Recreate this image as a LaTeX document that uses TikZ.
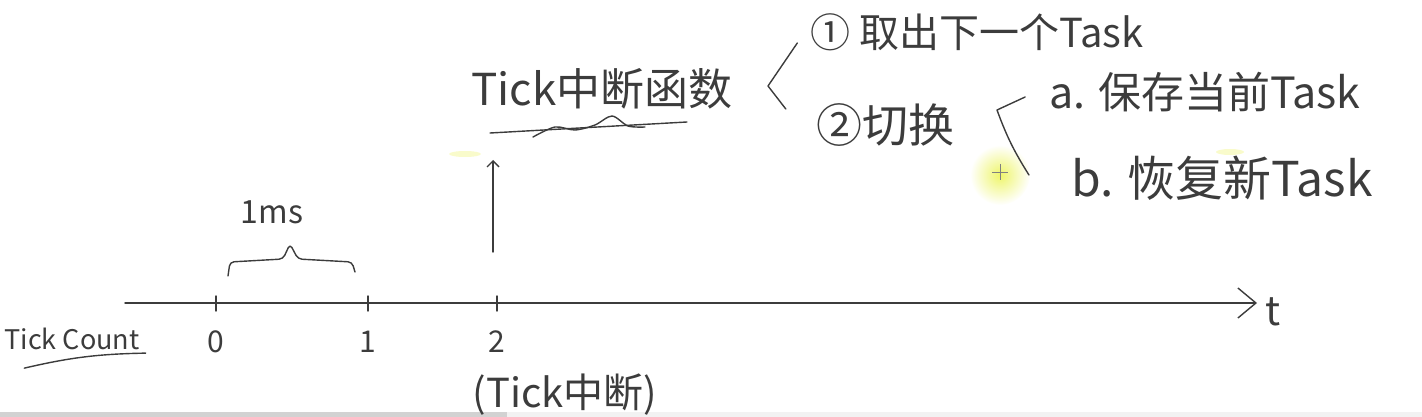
\documentclass[tikz,border=0pt]{standalone}
\usepackage{fontspec}
\setmainfont{Noto Sans CJK SC}
\usepackage{tikz}
\usetikzlibrary{arrows.meta,positioning,calc}
\definecolor{ink}{HTML}{3C3C3C}
\definecolor{hilite}{HTML}{EEF56A}
\newcommand{\fsz}[1]{\fontsize{#1}{#1}\selectfont}

\begin{document}
\begin{tikzpicture}[
  x=1pt, y=-1pt,
  pen/.style={draw=ink, line width=1.4pt, line cap=round, line join=round},
  hand/.style={text=ink, inner sep=0pt},
  bigtip/.style={-{Straight Barb[length=18pt,width=30pt,line width=1.4pt]}},
  smalltip/.style={-{Straight Barb[length=6pt,width=12pt,line width=1.4pt]}}
]
\useasboundingbox (0,0) rectangle (1422,417);
\fill[gray!35] (0,412) rectangle (507,417);
\fill[gray!10] (507,412) rectangle (1422,417);

% cursor highlight
\shade[inner color=hilite, outer color=white] (1000,175) circle (30);
\fill[hilite!35] (465,154) ellipse (16 and 3);
\fill[hilite!35] (1230,152) ellipse (14 and 3);
\draw[gray, line width=0.6pt] (992,172) -- (1008,172) (1000,164) -- (1000,180);

% time axis
\coordinate (start) at (125,303);
\coordinate (end) at (1257,303);
\draw[pen, bigtip] (start) -- (end);
\node[hand, font=\fsz{40}, right=8pt of end, yshift=-9pt] (tlab) {t};

\foreach \n/\x in {0/216,1/368,2/497} {
  \coordinate (c\n) at (\x,303);
  \draw[pen] (c\n) ++(0,-7) -- ++(0,15);
  \node[hand, font=\fsz{30}, below=28pt of c\n] (n\n) {\n};
}

\node[hand, font=\fsz{27}] (count) at (72,339) {Tick Count};
\draw[pen] ([xshift=20pt,yshift=-18pt]count.south west) to[bend left=6] ([xshift=6pt,yshift=-3pt]count.south east);

\node[hand, font=\fsz{40}] (irq) at (565,395) {(Tick中断)};

% 1ms brace
\draw[pen, rounded corners=4pt] ($(c0)+(12,-27)$) -- ++(2,-14) -- ++(53,-3)
  -- ++(7,-15) coordinate (peak) -- ++(8,15) -- ++(54,3) -- ++(3,10);
\node[hand, font=\fsz{32}] (period) at (272,212) {1ms};

% interrupt handler
\node[hand, font=\fsz{44}] (isr) at (602,89) {Tick中断函数};
\begin{scope}[shift={(isr.center)}]
  \draw[pen] (-112,44) -- (85,33);
  \draw[pen] plot[smooth] coordinates {(-69,48) (-47,38) (-27,41) (-7,36) (10,27) (26,37) (43,38)};
\end{scope}
\coordinate (up) at (493,160);
\draw[pen, smalltip] ($(c2)+(-4,-51)$) -- (up);

\node[hand, font=\fsz{40}] (one) at (977,32) {① 取出下一个Task};
\node[hand, font=\fsz{46}] (two) at (885,125) {②切换};
\node[hand, font=\fsz{43}] (save) at (1205,92) {a. 保存当前Task};
\node[hand, font=\fsz{48}] (load) at (1222,178) {b. 恢复新Task};

\coordinate (v1) at (768,86);
\draw[pen] ($(one.west)+(-13,11)$) -- (v1) -- ($(two.west)+(-30,-16)$);
\coordinate (v2) at (997,110);
\draw[pen] ($(save.west)+(-24,5)$) -- (v2) to[bend right=6] ($(load.west)+(-42,-3)$);
\end{tikzpicture}
\end{document}
